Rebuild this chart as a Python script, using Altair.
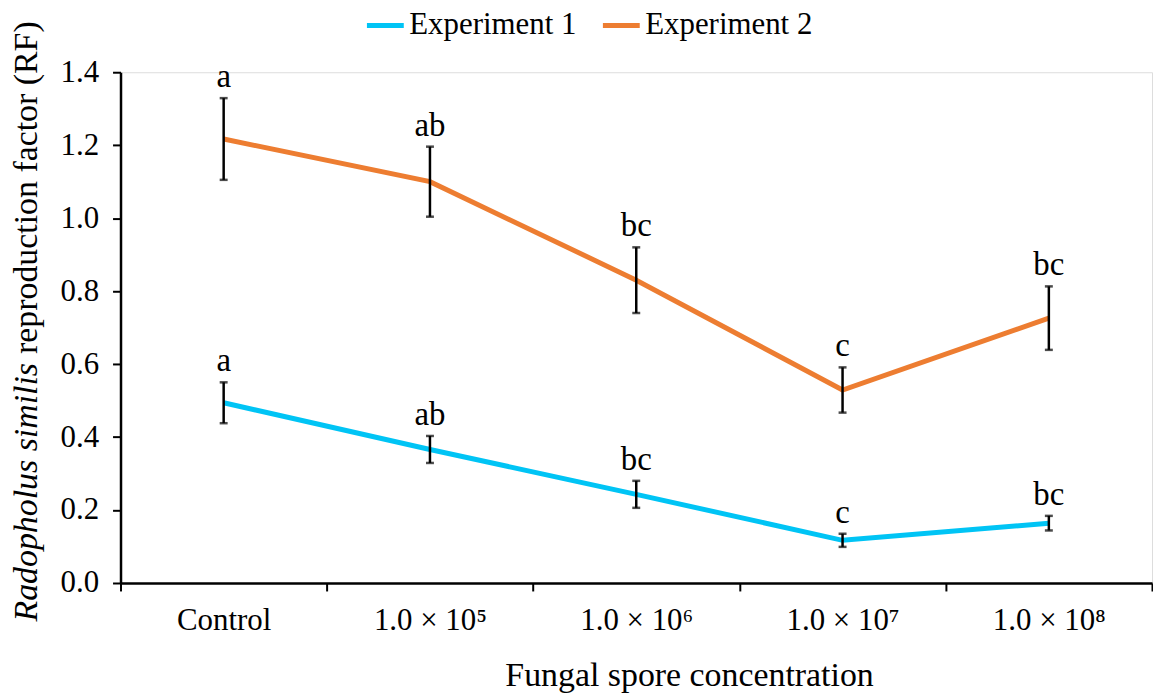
import altair as alt
import pandas as pd

categories = ["Control", "1.0 × 10⁵", "1.0 × 10⁶", "1.0 × 10⁷", "1.0 × 10⁸"]
series_names = ["Experiment 1", "Experiment 2"]
exp1_mean = [0.494, 0.366, 0.243, 0.117, 0.164]
exp1_err = [0.056, 0.037, 0.037, 0.018, 0.020]
exp2_mean = [1.217, 1.100, 0.830, 0.529, 0.726]
exp2_err = [0.112, 0.096, 0.090, 0.062, 0.087]
exp1_letters = ["a", "ab", "bc", "c", "bc"]
exp2_letters = ["a", "ab", "bc", "c", "bc"]
colors = ["#00C4F5", "#ED7D31"]
y_title_italic = "Radopholus similis"
y_title_plain = "reproduction factor (RF)"
x_title = "Fungal spore concentration"

rows = []
for name, means, errs, letters in [
    (series_names[0], exp1_mean, exp1_err, exp1_letters),
    (series_names[1], exp2_mean, exp2_err, exp2_letters),
]:
    for c, m, e, l in zip(categories, means, errs, letters):
        rows.append({"cat": c, "series": name, "mean": m, "lo": m - e, "hi": m + e, "letter": l})
df = pd.DataFrame(rows)

FONT = "'Liberation Serif', 'Times New Roman', Times, 'DejaVu Serif', serif"
W, H = 1036, 513

x_enc = alt.X(
    "cat:N",
    sort=categories,
    bandPosition=0.5,
    scale=alt.Scale(type="band", paddingInner=0, paddingOuter=0),
    axis=alt.Axis(
        title=x_title,
        titleFont=FONT,
        titleFontSize=34,
        titleFontWeight="normal",
        titleColor="black",
        titlePadding=23,
        titleX=571,
        titleAlign="center",
        labelFont=FONT,
        labelFontSize=31,
        labelColor="black",
        labelPadding=15,
        labelAngle=0,
        tickBand="extent",
        tickSize=8,
        tickWidth=2,
        tickColor="black",
        domainColor="black",
        domainWidth=2.5,
        grid=False,
    ),
)

y_scale = alt.Scale(domain=[0, 1.4], nice=False, zero=True)
y_axis = alt.Axis(
    title=None,
    values=[0, 0.2, 0.4, 0.6, 0.8, 1.0, 1.2, 1.4],
    format=".1f",
    labelFont=FONT,
    labelFontSize=31,
    labelColor="black",
    labelPadding=14,
    tickSize=8,
    tickWidth=2,
    tickColor="black",
    domainColor="black",
    domainWidth=2.5,
    grid=False,
)

base = alt.Chart(df)

lines = base.mark_line(strokeWidth=5).encode(
    x=x_enc,
    y=alt.Y("mean:Q", scale=y_scale, axis=y_axis),
    color=alt.Color(
        "series:N",
        scale=alt.Scale(domain=series_names, range=colors),
        legend=alt.Legend(
            title=None,
            orient="none",
            legendX=245,
            legendY=-68,
            padding=0,
            direction="horizontal",
            symbolType="stroke",
            symbolSize=1369,
            symbolStrokeWidth=5,
            labelFont=FONT,
            labelFontSize=31,
            labelColor="black",
            labelOffset=3,
            labelLimit=400,
            columnPadding=16,
        ),
    ),
    detail="series:N",
)

err_rule = base.mark_rule(color="black", strokeWidth=2.5).encode(
    x=alt.X("cat:N", sort=categories, bandPosition=0.5),
    y="lo:Q",
    y2="hi:Q",
)
cap_hi = base.mark_tick(color="black", size=8, thickness=2.5).encode(
    x=alt.X("cat:N", sort=categories, bandPosition=0.5),
    y="hi:Q",
)
cap_lo = base.mark_tick(color="black", size=8, thickness=2.5).encode(
    x=alt.X("cat:N", sort=categories, bandPosition=0.5),
    y="lo:Q",
)
letters = base.mark_text(
    font=FONT, fontSize=33, color="black", baseline="bottom", dy=-4
).encode(
    x=alt.X("cat:N", sort=categories, bandPosition=0.5),
    y="hi:Q",
    text="letter:N",
)

title_df = pd.DataFrame({"t": [y_title_italic], "u": [y_title_plain]})
ytitle_it = alt.Chart(title_df).mark_text(
    font=FONT, fontSize=34, fontStyle="italic", color="black",
    angle=270, align="right", baseline="middle"
).encode(x=alt.value(-94), y=alt.value(292), text="t:N")
ytitle_pl = alt.Chart(title_df).mark_text(
    font=FONT, fontSize=34, color="black",
    angle=270, align="left", baseline="middle"
).encode(x=alt.value(-94), y=alt.value(283), text="u:N")

chart = (
    alt.layer(lines, err_rule, cap_hi, cap_lo, letters, ytitle_it, ytitle_pl)
    .properties(
        width=W,
        height=H,
        autosize=alt.AutoSizeParams(type="none"),
        padding={"left": 113, "top": 63, "right": 1, "bottom": 114},
    )
    .configure_view(stroke=None)
    .configure(background="white")
)

chart.save("out.html", embed_options={"renderer": "svg", "actions": False})
